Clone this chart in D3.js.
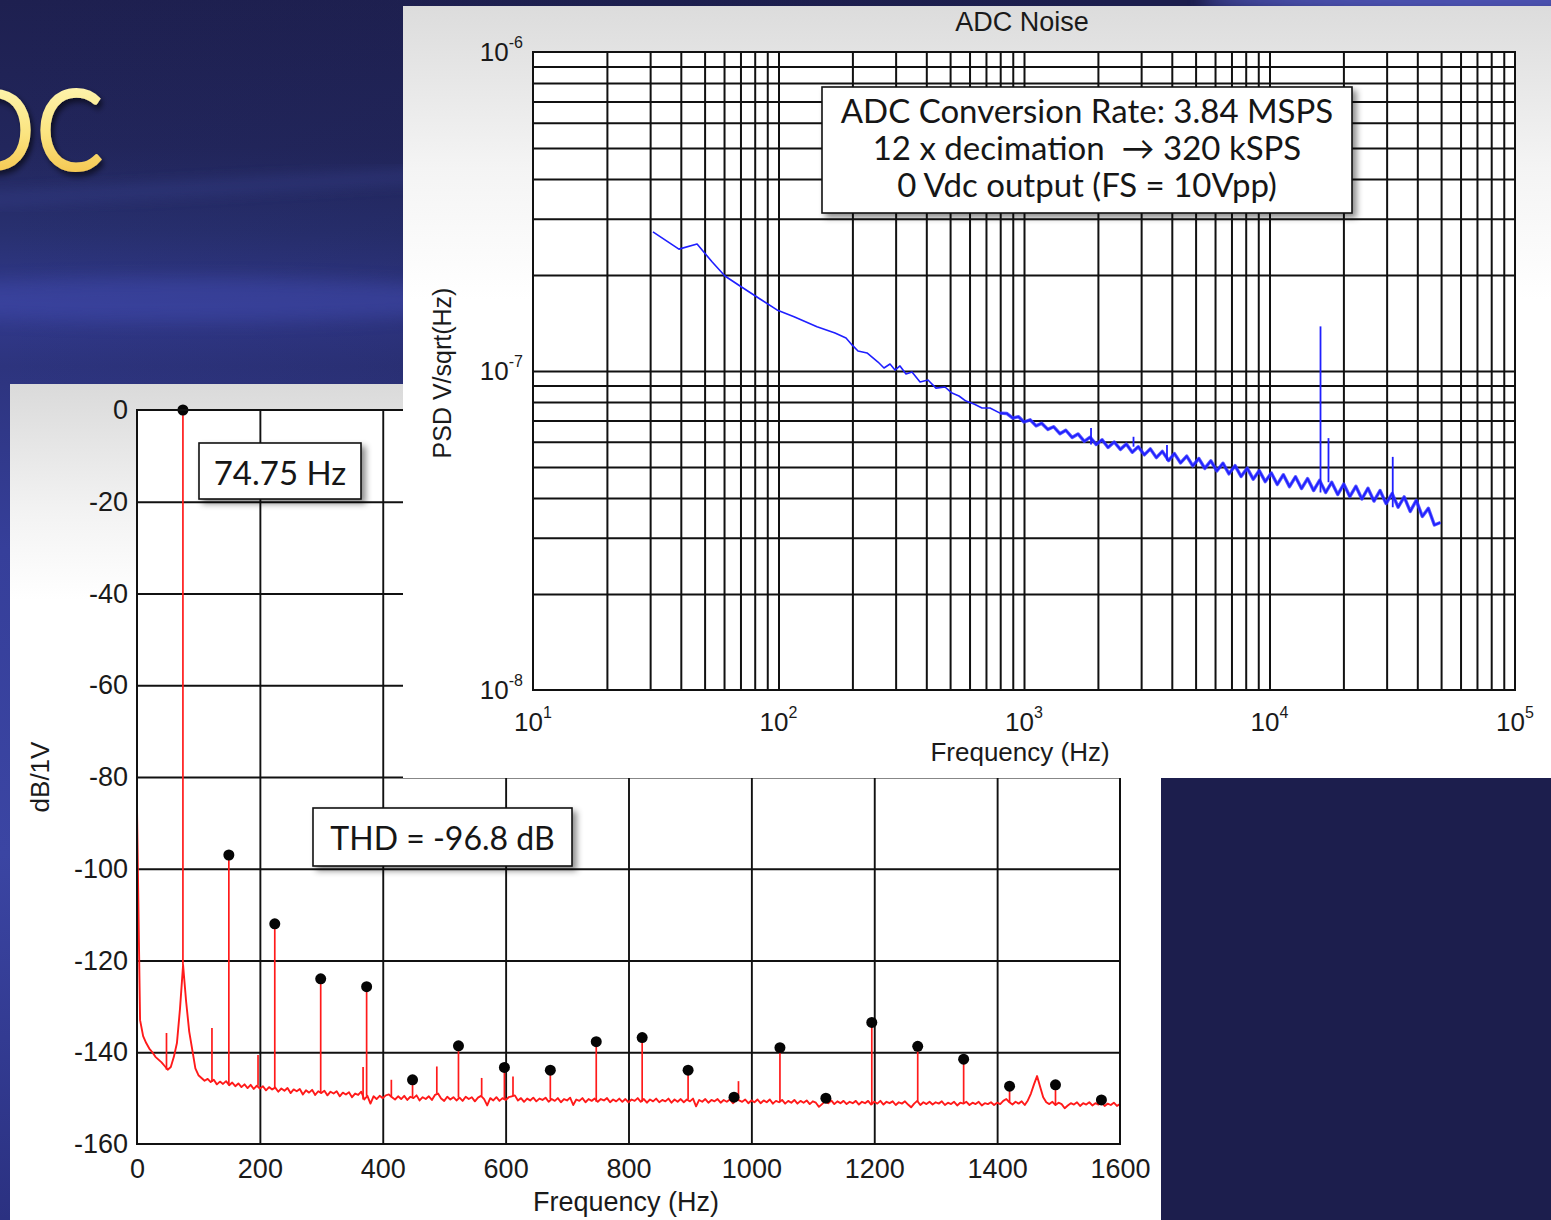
<!DOCTYPE html>
<html>
<head>
<meta charset="utf-8">
<script src="https://cdn.jsdelivr.net/npm/d3@7"></script>
<style>
  html, body { margin: 0; padding: 0; background: #1e2052; overflow: hidden; }
  svg { display: block; }
  text { font-family: "Liberation Sans", Arial, sans-serif; fill: #1a1a1a; }
  .callout { font-family: Lato, "Open Sans", sans-serif; white-space: pre; fill: #161616; }
</style>
</head>
<body>
<svg id="slide" width="1551" height="1220"></svg>
<script>
"use strict";

// ---------- THD spectrum (lower chart) ----------
const thdFreqTicks = [0, 200, 400, 600, 800, 1000, 1200, 1400, 1600];
const thdDbTicks = [0, -20, -40, -60, -80, -100, -120, -140, -160];

// noise floor, one value every 5 Hz from 0 to 1600 Hz
const floorStepHz = 5;
const floorDb = [
  -87, -133, -136.5, -138, -139.2, -140, -141, -141.6, -142.2, -143,
  -143.8, -143.2, -141, -138, -130.5, -121, -129, -135.5, -139.5, -143.5,
  -145.0, -145.6, -146.2, -145.8, -146.5, -146.0, -147.0, -146.4, -146.9, -146.3,
  -147.2, -146.6, -147.4, -146.8, -147.6, -147.0, -147.8, -147.1, -148.0, -147.3,
  -147.9, -147.4, -148.3, -147.6, -148.1, -147.7, -148.6, -147.9, -148.4, -147.8,
  -148.9, -148.1, -148.5, -148.0, -149.2, -148.3, -148.8, -148.2, -149.3, -148.5,
  -148.9, -148.4, -149.4, -148.6, -149.0, -148.5, -149.6, -148.8, -149.2, -148.7,
  -149.8, -149.0, -149.3, -148.6, -150.3, -149.5, -151.2, -149.6, -150.2, -149.5,
  -150.0, -149.4, -149.2, -149.8, -150.3, -149.6, -150.2, -149.5, -150.4, -149.7,
  -150.0, -149.4, -150.5, -149.8, -150.2, -149.6, -150.4, -149.3, -149.0, -150.1,
  -150.6, -149.7, -150.3, -149.8, -150.5, -149.9, -150.6, -149.7, -150.2, -149.8,
  -150.7, -149.9, -149.5, -150.2, -151.6, -150.0, -150.5, -149.8, -150.6, -150.0,
  -150.4, -149.8, -149.6, -149.4, -150.5, -150.0, -150.8, -150.1, -150.5, -149.9,
  -150.7, -150.1, -150.4, -149.9, -150.8, -150.2, -150.6, -150.0, -150.9, -150.2,
  -150.5, -149.9, -151.5, -150.3, -150.6, -150.0, -150.9, -150.2, -150.6, -150.1,
  -150.8, -150.2, -150.5, -150.0, -150.9, -150.3, -150.7, -150.1, -150.8, -150.2,
  -150.9, -150.3, -150.6, -150.0, -150.8, -150.2, -151.0, -150.3, -150.7, -150.1,
  -150.9, -150.4, -150.7, -150.1, -151.0, -150.3, -150.8, -150.2, -150.9, -150.3,
  -150.7, -150.1, -151.8, -150.4, -150.8, -150.2, -151.0, -150.4, -150.7, -150.2,
  -151.0, -150.4, -150.8, -150.3, -151.1, -150.0, -150.5, -150.8, -150.3, -151.1,
  -150.5, -150.9, -150.3, -151.1, -150.5, -150.9, -150.3, -151.2, -150.6, -150.9,
  -150.4, -151.2, -150.6, -151.0, -150.4, -151.2, -150.6, -151.0, -150.5, -151.3,
  -150.7, -151.0, -151.9, -151.3, -150.7, -151.1, -150.5, -151.3, -150.7, -151.1,
  -150.6, -151.3, -150.8, -151.1, -150.6, -151.4, -150.8, -151.1, -150.6, -151.4,
  -150.8, -151.2, -150.6, -151.4, -150.8, -151.1, -150.7, -151.5, -150.9, -151.2,
  -150.7, -151.4, -152.0, -151.2, -150.6, -151.5, -150.9, -151.3, -150.8, -151.4,
  -150.9, -151.2, -150.7, -151.5, -151.0, -151.3, -150.8, -151.6, -151.0, -151.2,
  -150.8, -151.5, -151.0, -151.3, -150.8, -151.6, -151.1, -151.3, -150.9, -151.5,
  -151.0, -151.3, -150.6, -150.2, -150.9, -151.4, -150.8, -151.2, -150.7, -151.5,
  -150.5, -149.0, -147.0, -145.2, -147.5, -149.8, -150.9, -151.3, -150.8, -151.5,
  -151.0, -151.3, -152.2, -151.6, -151.1, -151.4, -150.9, -151.7, -151.1, -151.4,
  -150.9, -151.6, -151.1, -151.4, -151.0, -151.7, -151.2, -151.5, -151.0, -151.7,
  -151.3
];

// harmonics of the 74.75 Hz tone: [Hz, dB]
const harmonics = [
  [74.75, 0], [149.5, -97.0], [224.25, -112.0], [299.0, -124.0], [373.75, -125.7],
  [448.5, -146.0], [523.25, -138.6], [598.0, -143.3], [672.75, -143.9], [747.5, -137.7],
  [822.25, -136.8], [897.0, -143.9], [971.75, -149.8], [1046.5, -139.0], [1121.25, -150.0],
  [1196.0, -133.5], [1270.75, -138.7], [1345.5, -141.5], [1420.25, -147.4], [1495.0, -147.1],
  [1569.75, -150.4]
];

// other spurs in the spectrum: [Hz, dB]
const thdSpurs = [
  [48, -135.8], [122, -134.7], [197, -140.6], [368, -143.2], [414, -146.0],
  [488, -143.1], [561, -145.6], [612, -145.3], [979, -146.3]
];

// ---------- ADC noise PSD (upper chart) ----------
const psdFreqTicks = [10, 100, 1000, 10000, 100000];
const psdTicks = [1e-6, 1e-7, 1e-8];

// [Hz, nV/sqrt(Hz)]
const noiseTrace = [
  [30.8, 273], [39.3, 241], [46.6, 250], [53.6, 220], [60.5, 198.5], [69.7, 184.7],
  [84.1, 168.2], [98.6, 155.4], [115.7, 148.0], [143.5, 137.7], [169.9, 131.6],
  [188.4, 126.9], [199.3, 120.7], [210.8, 115.5], [229.4, 113.9], [254.3, 106.7],
  [269, 102.2], [284.6, 105.2], [298.3, 100.7], [312.5, 103.7], [330.6, 97.9],
  [349.8, 99.3], [377.2, 92.4], [406.4, 93.7], [438, 88.4], [476.6, 89.1],
  [508.9, 85.3], [543.5, 83.5], [580.2, 80.5], [625.6, 78.8], [674.5, 76.6],
  [727, 76.6], [798.6, 73.8],
  [850, 73.6], [900, 71.2], [950, 71.9], [1000, 69.2], [1060, 70.3], [1120, 67.3],
  [1180, 68.6], [1250, 65.6], [1320, 66.9], [1400, 63.6], [1480, 65.2], [1570, 61.9],
  [1660, 63.5], [1760, 60.2], [1860, 62.0], [1970, 58.8], [2080, 60.9], [2200, 57.6],
  [2330, 59.9], [2470, 56.8], [2610, 59.0], [2760, 55.6], [2920, 57.9], [3090, 54.6],
  [3270, 57.0], [3460, 53.5], [3660, 56.0], [3880, 52.4], [4100, 55.1], [4340, 51.5],
  [4600, 54.1], [4870, 50.4], [5150, 53.2], [5450, 49.5], [5770, 52.3], [6100, 48.6],
  [6460, 51.4], [6840, 47.6], [7240, 50.5], [7660, 46.7], [8110, 49.6], [8580, 45.8],
  [9080, 48.7], [9610, 45.0], [10170, 47.9], [10760, 44.1], [11390, 47.3], [12060, 43.4],
  [12760, 46.6], [13500, 42.8], [14290, 46.0], [15120, 42.2], [16000, 45.4], [16940, 41.6],
  [17920, 44.8], [18970, 41.0], [20070, 44.2], [21240, 40.4], [22480, 43.5], [23790, 39.7],
  [25180, 42.9], [26640, 39.1], [28200, 42.2], [29840, 38.4], [31580, 41.3], [33420, 37.4],
  [35370, 40.3], [37430, 36.3], [39610, 39.3], [41920, 35.0], [44370, 37.1], [46950, 32.9],
  [49690, 33.5]
];

// spurs in the PSD: [Hz, nV/sqrt(Hz)]
const noiseSpurs = [
  [1875, 66.3], [2793, 62.2], [3823, 58.6], [16135, 138], [17390, 61.6], [31770, 53.8]
];

const noteLines = [
  "ADC Conversion Rate: 3.84 MSPS",
  "12 x decimation  \u2192 320 kSPS",
  "0 Vdc output (FS = 10Vpp)"
];

(function() {
  const svg = d3.select("#slide");
  const defs = svg.append("defs");

  drawBackground(svg, defs);
  drawThd(svg, defs);
  drawNoise(svg, defs);

  function stops(grad, list) {
    grad.selectAll("stop").data(list).join("stop")
      .attr("offset", d => d[0])
      .attr("stop-color", d => d[1])
      .attr("stop-opacity", d => d[2] === undefined ? 1 : d[2]);
  }

  function drawBackground(svg, defs) {
    const bg = defs.append("linearGradient").attr("id", "bgGrad")
      .attr("x1", 0).attr("y1", 0).attr("x2", 0).attr("y2", 1);
    stops(bg, [[0, "#1e2050"], [0.12, "#22265c"], [0.19, "#283070"], [0.25, "#323a8e"],
      [0.3, "#2d347e"], [0.45, "#363f9a"], [0.7, "#3b45a3"], [1, "#2b3181"]]);

    const shade = defs.append("linearGradient").attr("id", "shadeGrad")
      .attr("x1", 0).attr("y1", 0).attr("x2", 1).attr("y2", 0);
    stops(shade, [[0, "#1c1e4d", 0], [0.25, "#1c1e4d", 0.2], [0.72, "#1c1e4d", 1], [1, "#1c1e4d", 1]]);

    const blur = defs.append("filter").attr("id", "soft").attr("x", "-50%").attr("y", "-50%")
      .attr("width", "200%").attr("height", "200%");
    blur.append("feGaussianBlur").attr("stdDeviation", 8);

    svg.append("rect").attr("width", 1551).attr("height", 1220).attr("fill", "url(#bgGrad)");
    svg.append("rect").attr("width", 1551).attr("height", 1220).attr("fill", "url(#shadeGrad)");

    // light streaks
    svg.append("path").attr("d", "M-20,200 L420,176")
      .attr("stroke", "#4a54b0").attr("stroke-width", 6).attr("opacity", 0.55)
      .attr("filter", "url(#soft)");
    svg.append("ellipse").attr("cx", 180).attr("cy", 300).attr("rx", 320).attr("ry", 22)
      .attr("fill", "#3f49aa").attr("opacity", 0.5).attr("filter", "url(#soft)");
    svg.append("ellipse").attr("cx", 1500).attr("cy", 0).attr("rx", 300).attr("ry", 14)
      .attr("fill", "#525ac0").attr("opacity", 0.9).attr("filter", "url(#soft)");

    // slide title (only the end of it shows)
    const tg = defs.append("linearGradient").attr("id", "titleGrad")
      .attr("x1", 0).attr("y1", 0).attr("x2", 0).attr("y2", 1);
    stops(tg, [[0, "#fffcc6"], [0.55, "#fbe480"], [1, "#f2b83a"]]);
    const ts = defs.append("filter").attr("id", "titleShadow");
    ts.append("feDropShadow").attr("dx", 3).attr("dy", 4).attr("stdDeviation", 3)
      .attr("flood-color", "#000").attr("flood-opacity", 0.6);

    svg.append("text")
      .attr("transform", "translate(104,171) scale(0.9,1)")
      .attr("text-anchor", "end")
      .style("font-family", "Lato, 'Open Sans', sans-serif")
      .style("font-size", "114px")
      .style("fill", "url(#titleGrad)")
      .attr("filter", "url(#titleShadow)")
      .text("ADC");
  }

  function callout(g, box, lines, size, gap) {
    g.append("rect")
      .attr("x", box.x).attr("y", box.y).attr("width", box.w).attr("height", box.h)
      .attr("fill", "#fff").attr("stroke", "#111").attr("stroke-width", 1.6)
      .attr("filter", "url(#boxShadow)");
    g.selectAll(null).data(lines).join("text")
      .attr("class", "callout")
      .attr("x", box.x + box.w / 2)
      .attr("y", (d, i) => box.base + i * gap)
      .attr("text-anchor", "middle")
      .style("font-size", size + "px")
      .text(d => d);
  }

  function drawThd(svg, defs) {
    const left = 137, right = 1120, top = 410, bottom = 1144;
    const x = d3.scaleLinear().domain([0, 1600]).range([left, right]);
    const y = d3.scaleLinear().domain([0, -160]).range([top, bottom]);

    const pg = defs.append("linearGradient").attr("id", "thdPanel")
      .attr("gradientUnits", "userSpaceOnUse").attr("x1", 0).attr("y1", 384).attr("x2", 0).attr("y2", 600);
    stops(pg, [[0, "#dadada"], [0.6, "#f3f3f3"], [1, "#ffffff"]]);

    const sh = defs.append("filter").attr("id", "boxShadow")
      .attr("x", "-10%").attr("y", "-10%").attr("width", "130%").attr("height", "150%");
    sh.append("feDropShadow").attr("dx", 4).attr("dy", 4).attr("stdDeviation", 3)
      .attr("flood-color", "#000").attr("flood-opacity", 0.45);

    const g = svg.append("g");
    g.append("rect").attr("x", 10).attr("y", 384).attr("width", 1151).attr("height", 836)
      .attr("fill", "url(#thdPanel)");
    g.append("rect").attr("x", left).attr("y", top).attr("width", right - left).attr("height", bottom - top)
      .attr("fill", "#fff");

    // grid
    g.append("g").attr("transform", `translate(0,${bottom})`)
      .call(d3.axisBottom(x).tickValues(thdFreqTicks.slice(1, -1)).tickSize(-(bottom - top)).tickFormat(""))
      .call(a => a.select(".domain").remove())
      .selectAll("line").attr("stroke", "#111").attr("stroke-width", 1.9);
    g.append("g").attr("transform", `translate(${left},0)`)
      .call(d3.axisLeft(y).tickValues(thdDbTicks.slice(1, -1)).tickSize(-(right - left)).tickFormat(""))
      .call(a => a.select(".domain").remove())
      .selectAll("line").attr("stroke", "#111").attr("stroke-width", 1.9);

    // labels
    g.append("g").attr("transform", `translate(0,${bottom})`)
      .call(d3.axisBottom(x).tickValues(thdFreqTicks).tickSize(0).tickPadding(15).tickFormat(d => String(d)))
      .call(a => a.select(".domain").remove())
      .selectAll("text").style("font-size", "27px").style("font-family", "'Liberation Sans', Arial, sans-serif");
    g.append("g").attr("transform", `translate(${left},0)`)
      .call(d3.axisLeft(y).tickValues(thdDbTicks).tickSize(0).tickPadding(9).tickFormat(d => String(d)))
      .call(a => a.select(".domain").remove())
      .selectAll("text").style("font-size", "27px").style("font-family", "'Liberation Sans', Arial, sans-serif");

    g.append("text").attr("x", 626).attr("y", 1211).attr("text-anchor", "middle")
      .style("font-size", "27px").text("Frequency (Hz)");
    g.append("text").attr("transform", "translate(49,777) rotate(-90)").attr("text-anchor", "middle")
      .style("font-size", "26px").text("dB/1V");

    // spectrum
    const line = d3.line().x(d => x(d[0])).y(d => y(d[1]));
    const floorPts = floorDb.map((v, i) => [i * floorStepHz, v]);
    const footAt = f => floorDb[Math.round(f / floorStepHz)];

    g.append("path").datum(floorPts).attr("d", line)
      .attr("fill", "none").attr("stroke", "#ff1a1a").attr("stroke-width", 1.9)
      .attr("stroke-linejoin", "round");

    g.selectAll(null).data(thdSpurs.concat(harmonics)).join("line")
      .attr("x1", d => x(d[0])).attr("x2", d => x(d[0]))
      .attr("y1", d => y(footAt(d[0]))).attr("y2", d => y(d[1]))
      .attr("stroke", "#ff1a1a").attr("stroke-width", 1.7);

    g.selectAll(null).data(harmonics).join("circle")
      .attr("cx", d => x(d[0])).attr("cy", d => y(d[1])).attr("r", 5.5)
      .attr("fill", "#050505");

    // frame
    g.append("rect").attr("x", left).attr("y", top).attr("width", right - left).attr("height", bottom - top)
      .attr("fill", "none").attr("stroke", "#111").attr("stroke-width", 2);

    callout(g, { x: 199, y: 443, w: 162, h: 56, base: 485 }, ["74.75 Hz"], 33, 0);
    callout(g, { x: 313, y: 808, w: 259, h: 58, base: 850 }, ["THD = -96.8 dB"], 32, 0);
  }

  function drawNoise(svg, defs) {
    const left = 533, right = 1515, top = 52, bottom = 690;
    const x = d3.scaleLog().domain([10, 1e5]).range([left, right]);
    const y = d3.scaleLog().domain([1e-8, 1e-6]).range([bottom, top]);

    const pg = defs.append("linearGradient").attr("id", "psdPanel")
      .attr("gradientUnits", "userSpaceOnUse").attr("x1", 0).attr("y1", 6).attr("x2", 0).attr("y2", 300);
    stops(pg, [[0, "#dcdcdc"], [0.55, "#f4f4f4"], [1, "#ffffff"]]);

    defs.append("clipPath").attr("id", "psdClip")
      .append("rect").attr("x", left).attr("y", top).attr("width", right - left).attr("height", bottom - top);

    const g = svg.append("g");
    g.append("rect").attr("x", 403).attr("y", 6).attr("width", 1148).attr("height", 772)
      .attr("fill", "url(#psdPanel)");
    g.append("rect").attr("x", left).attr("y", top).attr("width", right - left).attr("height", bottom - top)
      .attr("fill", "#fff");

    const xs = x.ticks().filter(d => d > 10 && d < 1e5);
    const ys = y.ticks().filter(d => d > 1.01e-8 && d < 0.99e-6);

    g.append("g").attr("transform", `translate(0,${bottom})`)
      .call(d3.axisBottom(x).tickValues(xs).tickSize(-(bottom - top)).tickFormat(""))
      .call(a => a.select(".domain").remove())
      .selectAll("line").attr("stroke", "#111").attr("stroke-width", 2);
    g.append("g").attr("transform", `translate(${left},0)`)
      .call(d3.axisLeft(y).tickValues(ys).tickSize(-(right - left)).tickFormat(""))
      .call(a => a.select(".domain").remove())
      .selectAll("line").attr("stroke", "#111").attr("stroke-width", 2);

    // tick labels with superscript exponents
    const xl = g.append("g").selectAll("text").data(psdFreqTicks).join("text")
      .attr("x", d => x(d)).attr("y", 731).attr("text-anchor", "middle")
      .style("font-size", "26px");
    xl.append("tspan").text("10");
    xl.append("tspan").attr("dy", -13).style("font-size", "16px").text(d => Math.round(Math.log10(d)));

    const yl = g.append("g").selectAll("text").data(psdTicks).join("text")
      .attr("x", 523).attr("y", d => y(d) + 9).attr("text-anchor", "end")
      .style("font-size", "26px");
    yl.append("tspan").text("10");
    yl.append("tspan").attr("dy", -13).style("font-size", "16px").text(d => String(Math.round(Math.log10(d))));

    g.append("text").attr("x", 1022).attr("y", 31).attr("text-anchor", "middle")
      .style("font-size", "27px").text("ADC Noise");
    g.append("text").attr("x", 1020).attr("y", 761).attr("text-anchor", "middle")
      .style("font-size", "26px").text("Frequency (Hz)");
    g.append("text").attr("transform", "translate(451,373) rotate(-90)").attr("text-anchor", "middle")
      .style("font-size", "25px").text("PSD V/sqrt(Hz)");

    // trace: the dense part above ~800 Hz reads as a thick band
    const nv = 1e-9;
    const plot = g.append("g").attr("clip-path", "url(#psdClip)");
    const psdLine = d3.line().x(d => x(d[0])).y(d => y(d[1] * nv));
    plot.append("path").datum(noiseTrace.filter(d => d[0] >= 798))
      .attr("d", psdLine)
      .attr("fill", "none").attr("stroke", "#3b3bff").attr("stroke-width", 3.4)
      .attr("stroke-linejoin", "round").attr("opacity", 0.85);
    plot.append("path").datum(noiseTrace)
      .attr("d", psdLine)
      .attr("fill", "none").attr("stroke", "#1f1fff").attr("stroke-width", 1.6)
      .attr("stroke-linejoin", "round");

    const bis = d3.bisector(d => d[0]).left;
    const footAt = f => {
      const i = Math.min(bis(noiseTrace, f), noiseTrace.length - 1);
      return noiseTrace[i][1];
    };
    plot.selectAll(null).data(noiseSpurs).join("line")
      .attr("x1", d => x(d[0])).attr("x2", d => x(d[0]))
      .attr("y1", d => y(footAt(d[0]) * nv)).attr("y2", d => y(d[1] * nv))
      .attr("stroke", "#1f1fff").attr("stroke-width", 1.8);

    g.append("rect").attr("x", left).attr("y", top).attr("width", right - left).attr("height", bottom - top)
      .attr("fill", "none").attr("stroke", "#111").attr("stroke-width", 2);

    callout(g, { x: 822, y: 87, w: 530, h: 126, base: 123 }, noteLines, 33, 37);
  }
})();
</script>
</body>
</html>
